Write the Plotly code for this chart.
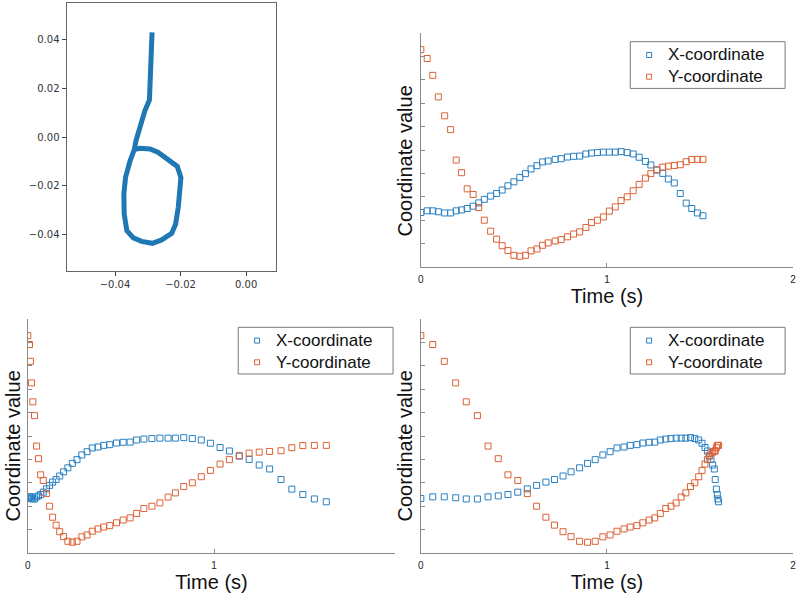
import plotly.graph_objects as go

# ---- Top-left: pen trajectory (the digit "6") ----
traj_x = [-0.0287, -0.0289, -0.0291, -0.0293, -0.0295, -0.0309, -0.0324, -0.0336,
          -0.0341, -0.0354, -0.0368, -0.0373, -0.0372, -0.0364, -0.0344, -0.0319,
          -0.0286, -0.0258, -0.0227, -0.0215, -0.0207, -0.0200, -0.0199, -0.0210,
          -0.0238, -0.0268, -0.0293, -0.0324, -0.0338]
traj_y = [0.0427, 0.0350, 0.0284, 0.0220, 0.0151, 0.0107, 0.0046, -0.0015,
          -0.0050, -0.0097, -0.0165, -0.0233, -0.0314, -0.0382, -0.0412, -0.0426,
          -0.0434, -0.0420, -0.0393, -0.0355, -0.0287, -0.0205, -0.0165, -0.0120,
          -0.0090, -0.0063, -0.0049, -0.0046, -0.0050]

# ---- Coordinate series (same samples, shown against three time bases) ----
x_coord = [2.33, 2.40, 2.40, 2.36, 2.31, 2.31, 2.40, 2.44, 2.50, 2.60,
           2.74, 2.89, 3.03, 3.14, 3.29, 3.47, 3.64, 3.83, 3.99, 4.19,
           4.33, 4.49, 4.53, 4.60, 4.63, 4.70, 4.73, 4.74, 4.83, 4.87,
           4.89, 4.91, 4.91, 4.91, 4.93, 4.89, 4.83, 4.69, 4.51, 4.36,
           4.14, 4.00, 3.76, 3.59, 3.14, 2.73, 2.50, 2.31, 2.19]
y_coord = [9.29, 8.91, 8.19, 7.27, 6.46, 5.87, 4.57, 4.03, 3.34, 3.10,
           2.54, 2.00, 1.53, 1.19, 0.91, 0.70, 0.50, 0.46, 0.50, 0.69,
           0.77, 0.93, 1.03, 1.11, 1.17, 1.29, 1.41, 1.50, 1.69, 1.90,
           2.00, 2.14, 2.39, 2.57, 2.84, 3.00, 3.26, 3.53, 3.80, 3.99,
           4.16, 4.27, 4.31, 4.34, 4.37, 4.50, 4.59, 4.60, 4.60]

t_top_right = [0.000, 0.034, 0.064, 0.094, 0.128, 0.160, 0.190, 0.219, 0.249, 0.281,
               0.311, 0.341, 0.375, 0.407, 0.437, 0.468, 0.500, 0.532, 0.562, 0.592,
               0.624, 0.654, 0.684, 0.722, 0.754, 0.788, 0.821, 0.853, 0.887, 0.917,
               0.949, 0.981, 1.013, 1.045, 1.076, 1.109, 1.141, 1.173, 1.207, 1.236,
               1.268, 1.300, 1.330, 1.362, 1.394, 1.426, 1.456, 1.486, 1.516]
t_bottom_left = [0.000, 0.009, 0.014, 0.020, 0.027, 0.036, 0.047, 0.057, 0.069, 0.083,
                 0.100, 0.117, 0.133, 0.152, 0.171, 0.192, 0.215, 0.239, 0.264, 0.290,
                 0.318, 0.346, 0.377, 0.407, 0.440, 0.476, 0.512, 0.549, 0.584, 0.623,
                 0.666, 0.709, 0.753, 0.792, 0.837, 0.883, 0.931, 0.980, 1.032, 1.082,
                 1.135, 1.188, 1.242, 1.298, 1.359, 1.417, 1.476, 1.538, 1.602]
t_bottom_right = [0.000, 0.064, 0.126, 0.187, 0.244, 0.304, 0.361, 0.416, 0.468, 0.521,
                  0.572, 0.622, 0.672, 0.718, 0.764, 0.807, 0.853, 0.896, 0.937, 0.978,
                  1.017, 1.054, 1.092, 1.125, 1.161, 1.193, 1.227, 1.257, 1.287, 1.316,
                  1.344, 1.372, 1.399, 1.424, 1.449, 1.472, 1.493, 1.511, 1.527, 1.540,
                  1.550, 1.559, 1.568, 1.577, 1.582, 1.588, 1.593, 1.596, 1.600]

series_names = ["X-coordinate", "Y-coordinate"]
BLUE = "#2a80c2"
ORANGE = "#dc6236"
series_colors = [BLUE, ORANGE]
W, H = 800, 597
FONT = "Liberation Sans, Arial, sans-serif"

fig = go.Figure()

fig.add_trace(go.Scatter(x=traj_x, y=traj_y, mode="lines",
                         line=dict(color="#1f77b4", width=5),
                         xaxis="x", yaxis="y", showlegend=False))

panels = [("x2", "y2", t_top_right),
          ("x3", "y3", t_bottom_left),
          ("x4", "y4", t_bottom_right)]
for xa, ya, tt in panels:
    for name, vals, col in zip(series_names, [x_coord, y_coord], series_colors):
        fig.add_trace(go.Scatter(
            x=tt, y=vals, mode="markers", name=name,
            marker=dict(symbol="square-open", size=6, color=col,
                        line=dict(width=1, color=col)),
            xaxis=xa, yaxis=ya, showlegend=False))


def px_x(a, b):
    return [a / W, b / W]


def px_y(top, bottom):
    return [1 - bottom / H, 1 - top / H]


grey = "#8a8a8a"
tick_font = dict(family=FONT, size=10, color="#222")
title_font = dict(family=FONT, size=20, color="#111")


def series_xaxis(domain, rng, tickvals, anchor):
    return dict(domain=domain, range=rng, anchor=anchor, showline=True,
                linecolor=grey, linewidth=1, ticks="inside", ticklen=4,
                tickcolor=grey, tickvals=tickvals, ticktext=[str(v) for v in tickvals],
                tickfont=tick_font, showgrid=False, zeroline=False,
                ticklabelstandoff=3,
                title=dict(text="Time (s)", font=title_font, standoff=4))


def series_yaxis(domain, anchor):
    return dict(domain=domain, range=[0, 10], anchor=anchor, showline=True,
                linecolor=grey, linewidth=1, ticks="inside", ticklen=4,
                tickcolor=grey, tickvals=list(range(0, 11)), showticklabels=False,
                showgrid=False, zeroline=False)


shapes = []
annotations = []

# ---- y-axis titles (placed in pixels, as in the source figure) ----
for cx, cy in [(405.5, 161), (10.5, 446), (405.5, 446)]:
    annotations.append(dict(text="Coordinate value", xref="paper", yref="paper",
                            x=cx / W, y=1 - cy / H, xanchor="center",
                            yanchor="middle", textangle=-90, showarrow=False,
                            font=title_font))

# ---- hand-built legend boxes (pixel placement of each panel's key) ----
legend_boxes = [(632, 41.7), (237, 327.3), (632, 327.3)]  # (left, top) in px
BOX_W, BOX_H = 156, 46.7
ROW_DY = [13.3, 35.0]
for left, top in legend_boxes:
    shapes.append(dict(type="rect", xref="paper", yref="paper",
                       x0=left / W, x1=(left + BOX_W) / W,
                       y0=1 - (top + BOX_H) / H, y1=1 - top / H,
                       line=dict(color="#777", width=1), fillcolor="white",
                       layer="above"))
    for name, col, dy in zip(series_names, series_colors, ROW_DY):
        cy = top + dy
        cx = left + 19
        shapes.append(dict(type="rect", xref="paper", yref="paper",
                           x0=(cx - 2.5) / W, x1=(cx + 2.5) / W,
                           y0=1 - (cy + 2.5) / H, y1=1 - (cy - 2.5) / H,
                           line=dict(color=col, width=1), fillcolor="rgba(0,0,0,0)",
                           layer="above"))
        annotations.append(dict(text=name, xref="paper", yref="paper",
                                x=(left + 36.5) / W, y=1 - cy / H,
                                xanchor="left", yanchor="middle", showarrow=False,
                                font=dict(family=FONT, size=17, color="#111")))

fig.update_layout(
    width=W, height=H,
    margin=dict(l=0, r=0, t=0, b=0),
    paper_bgcolor="white", plot_bgcolor="white",
    showlegend=False,
    xaxis=dict(domain=px_x(64, 275), range=[-0.0548, 0.0091], anchor="y",
               showline=True, mirror=True, linecolor="#666", linewidth=1,
               ticks="outside", ticklen=4, tickcolor="#444",
               tickvals=[-0.04, -0.02, 0.0], tickformat=".2f",
               tickfont=dict(family="DejaVu Sans", size=10, color="#333"),
               showgrid=False, zeroline=False),
    yaxis=dict(domain=px_y(3, 271), range=[-0.0547, 0.0547], anchor="x",
               showline=True, mirror=True, linecolor="#666", linewidth=1,
               ticks="outside", ticklen=4, tickcolor="#444",
               tickvals=[-0.04, -0.02, 0.0, 0.02, 0.04], tickformat=".2f",
               tickfont=dict(family="DejaVu Sans", size=10, color="#333"),
               showgrid=False, zeroline=False),
    xaxis2=series_xaxis(px_x(421, 796), [0, 2], [0, 1, 2], "y2"),
    yaxis2=series_yaxis(px_y(33, 267), "x2"),
    xaxis3=series_xaxis(px_x(25, 395), [0, 1.971], [0, 1], "y3"),
    yaxis3=series_yaxis(px_y(319, 553), "x3"),
    xaxis4=series_xaxis(px_x(421, 796), [0, 2], [0, 1, 2], "y4"),
    yaxis4=series_yaxis(px_y(319, 553), "x4"),
    shapes=shapes,
    annotations=annotations,
)

fig.write_html("out.html", config={"displayModeBar": False},
               post_script="document.body.style.margin='0';")
